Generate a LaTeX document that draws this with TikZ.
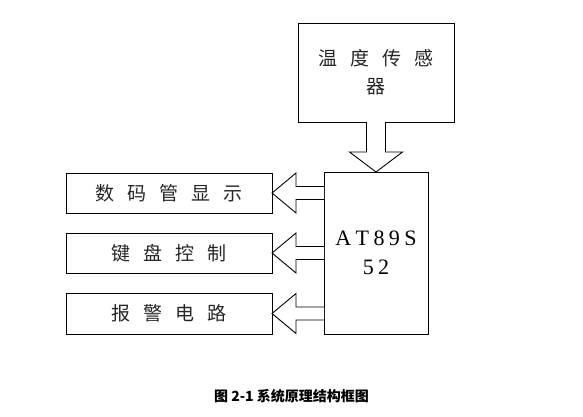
\documentclass[tikz,border=0pt]{standalone}
\usepackage{fontspec}
\setmainfont{Liberation Serif}
\newfontfamily\cjk{Noto Sans CJK SC}
\usetikzlibrary{calc}
\newcommand{\zgap}{\hspace{13pt}}
\newcommand{\lsp}{\hspace{4.4pt}}
\begin{document}
\begin{tikzpicture}[x=1pt,y=-1pt,
  every node/.style={inner sep=0pt, outer sep=0pt},
  blk/.style={draw, line width=0.9pt, rectangle, align=center},
  zh/.style={font=\cjk\fontsize{19pt}{28pt}\selectfont, text=black!85},
  harrow/.style={draw, line width=0.9pt, line join=miter, fill=white}]
\useasboundingbox (0,0) rectangle (583,417);
\fill[white] (0,0) rectangle (583,417);
% blocks
\node[blk, zh, minimum width=156pt, minimum height=99pt] (temp) at (376,72.5) {温\zgap 度\zgap 传\zgap 感\\器};
\node[blk, minimum width=104pt, minimum height=162pt,
      font=\fontsize{22pt}{29pt}\selectfont] (mcu) at (376,253) {A\lsp T\lsp 8\lsp 9\lsp S\\5\lsp 2};
\node[blk, zh, minimum width=206pt, minimum height=40pt] (disp) at (169,193) {数\zgap 码\zgap 管\zgap 显\zgap 示};
\node[blk, zh, minimum width=206pt, minimum height=40pt] (key) at (169,253) {键\zgap 盘\zgap 控\zgap 制};
\node[blk, zh, minimum width=206pt, minimum height=41pt] (alarm) at (169,313.5) {报\zgap 警\zgap 电\zgap 路};
% hollow arrow from sensor to MCU
\draw[harrow] ($(temp.south)+(-9.5,0)$) -- ($(temp.south)+(-9.5,30)$) -- ($(temp.south)+(-26.5,30)$)
  -- (mcu.north) -- ($(temp.south)+(26.5,30)$) -- ($(temp.south)+(9.5,30)$) -- ($(temp.south)+(9.5,0)$);
% hollow arrows from MCU to outputs
\foreach \b in {disp,key,alarm}{
  \draw[harrow] ($(\b.east)+(52,-6.5)$) -- ($(\b.east)+(24,-6.5)$) -- ($(\b.east)+(24,-20)$)
    -- (\b.east) -- ($(\b.east)+(24,20)$) -- ($(\b.east)+(24,6.5)$) -- ($(\b.east)+(52,6.5)$);
}
% caption
\node[font=\cjk\bfseries\fontsize{14pt}{16pt}\selectfont] (cap) at (291.5,396) {图 2-1 系统原理结构框图};
\end{tikzpicture}
\end{document}
